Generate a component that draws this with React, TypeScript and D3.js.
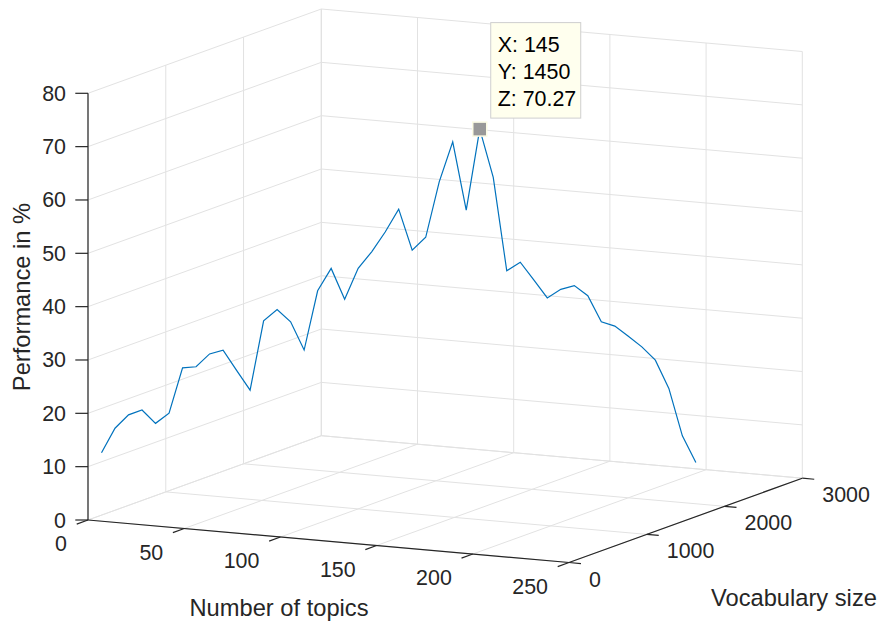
import { useEffect, useRef } from 'react';
import * as d3 from 'd3';

// topics, vocabulary and performance of the plotted line
const topics = [5, 10, 15, 20, 25, 30, 35, 40, 45, 50, 55, 60, 65, 70, 75, 80, 85, 90, 95, 100,
  105, 110, 115, 120, 125, 130, 135, 140, 145, 150, 155, 160, 165, 170, 175, 180, 185, 190, 195, 200,
  205, 210, 215, 220, 225];
const vocab = [50, 100, 150, 200, 250, 300, 350, 400, 450, 500, 550, 600, 650, 700, 750, 800, 850, 900, 950, 1000,
  1050, 1100, 1150, 1200, 1250, 1300, 1350, 1400, 1450, 1500, 1550, 1600, 1650, 1700, 1750, 1800, 1850, 1900, 1950, 2000,
  2050, 2100, 2150, 2200, 2250];
const performance = [12.5, 17.0, 19.4, 20.2, 17.6, 19.4, 27.8, 27.9, 30.2, 30.8, 26.9, 23.1, 36.0, 38.0, 35.6, 30.2,
  41.2, 45.3, 39.4, 45.1, 48.1, 51.7, 55.9, 48.1, 50.4, 60.7, 68.1, 55.2, 70.27, 61.1, 43.5, 45.0, 41.6, 38.1,
  39.6, 40.2, 38.2, 33.2, 32.3, 30.3, 28.2, 25.6, 20.2, 11.2, 6.1];

const xTicks = [0, 50, 100, 150, 200, 250];
const yTicks = [0, 1000, 2000, 3000];
const zTicks = [0, 10, 20, 30, 40, 50, 60, 70, 80];

const tip = { x: 145, y: 1450, z: 70.27 };

const width = 882;
const height = 627;

const App = () => {
  const svgRef = useRef<SVGSVGElement>(null);

  useEffect(() => {
    if (!svgRef.current) return;
    const svg = d3.select(svgRef.current);
    svg.selectAll('*').remove();

    const font = 'Liberation Sans, Arial, Helvetica, sans-serif';
    const axisColor = '#262626';
    const gridColor = '#e2e2e2';
    const tickSize = 21.4;
    const labelSize = 23.7;

    const xs = d3.scaleLinear().domain([0, 250]).range([0, 1]);
    const ys = d3.scaleLinear().domain([0, 3000]).range([0, 1]);
    const zs = d3.scaleLinear().domain([0, 80]).range([0, 1]);

    // screen vectors of the projected box
    const O = [88, 520];
    const EX = [481, 42.5];
    const EY = [233.3, -84.3];
    const EZ = [0, -426.7];

    const P = (x: number, y: number, z: number): [number, number] => {
      const a = xs(x), b = ys(y), c = zs(z);
      return [O[0] + a * EX[0] + b * EY[0] + c * EZ[0], O[1] + a * EX[1] + b * EY[1] + c * EZ[1]];
    };

    const seg = (g: any, p1: [number, number], p2: [number, number], color: string, w: number) =>
      g.append('line')
        .attr('x1', p1[0]).attr('y1', p1[1])
        .attr('x2', p2[0]).attr('y2', p2[1])
        .attr('stroke', color).attr('stroke-width', w);

    const xMax = 250, yMax = 3000, zMax = 80;

    // grid
    const grid = svg.append('g');
    xTicks.forEach(x => {
      seg(grid, P(x, 0, 0), P(x, yMax, 0), gridColor, 1);
      seg(grid, P(x, yMax, 0), P(x, yMax, zMax), gridColor, 1);
    });
    yTicks.forEach(y => {
      seg(grid, P(0, y, 0), P(xMax, y, 0), gridColor, 1);
      seg(grid, P(0, y, 0), P(0, y, zMax), gridColor, 1);
    });
    zTicks.forEach(z => {
      seg(grid, P(0, yMax, z), P(xMax, yMax, z), gridColor, 1);
      seg(grid, P(0, 0, z), P(0, yMax, z), gridColor, 1);
    });

    // axes
    const ax = svg.append('g');
    seg(ax, P(0, 0, 0), P(xMax, 0, 0), axisColor, 1.2);
    seg(ax, P(xMax, 0, 0), P(xMax, yMax, 0), axisColor, 1.2);
    seg(ax, P(0, 0, 0), P(0, 0, zMax), axisColor, 1.2);

    const tl = 12;
    const nY = Math.hypot(EY[0], EY[1]);
    const nX = Math.hypot(EX[0], EX[1]);

    xTicks.forEach(x => {
      const p = P(x, 0, 0);
      seg(ax, p, [p[0] - EY[0] / nY * tl, p[1] - EY[1] / nY * tl], axisColor, 1.2);
      ax.append('text')
        .attr('x', p[0] - 21).attr('y', p[1] + 31)
        .attr('text-anchor', 'end')
        .attr('font-family', font).attr('font-size', tickSize).attr('fill', axisColor)
        .text(String(x));
    });
    yTicks.forEach(y => {
      const p = P(xMax, y, 0);
      seg(ax, p, [p[0] + EX[0] / nX * tl, p[1] + EX[1] / nX * tl], axisColor, 1.2);
      ax.append('text')
        .attr('x', p[0] + 20).attr('y', p[1] + 24)
        .attr('text-anchor', 'start')
        .attr('font-family', font).attr('font-size', tickSize).attr('fill', axisColor)
        .text(String(y));
    });
    zTicks.forEach(z => {
      const p = P(0, 0, z);
      seg(ax, p, [p[0] - 12.7, p[1]], axisColor, 1.2);
      ax.append('text')
        .attr('x', p[0] - 22).attr('y', p[1] + 7.5)
        .attr('text-anchor', 'end')
        .attr('font-family', font).attr('font-size', tickSize).attr('fill', axisColor)
        .text(String(z));
    });

    // axis labels
    svg.append('text')
      .attr('x', 279).attr('y', 616)
      .attr('text-anchor', 'middle')
      .attr('font-family', font).attr('font-size', labelSize).attr('fill', axisColor)
      .text('Number of topics');
    svg.append('text')
      .attr('x', 711).attr('y', 606)
      .attr('text-anchor', 'start')
      .attr('font-family', font).attr('font-size', labelSize).attr('fill', axisColor)
      .text('Vocabulary size');
    svg.append('text')
      .attr('transform', 'translate(30,297) rotate(-90)')
      .attr('text-anchor', 'middle')
      .attr('font-family', font).attr('font-size', labelSize).attr('fill', axisColor)
      .text('Performance in %');

    // data line
    const pts = topics.map((t, i) => P(t, vocab[i], performance[i]));
    svg.append('path')
      .attr('d', d3.line()(pts))
      .attr('fill', 'none')
      .attr('stroke', '#0072BD')
      .attr('stroke-width', 1.2);

    // data tip
    const tp = P(tip.x, tip.y, tip.z);
    svg.append('rect')
      .attr('x', tp[0] - 7).attr('y', tp[1] - 7)
      .attr('width', 14).attr('height', 14)
      .attr('fill', '#999999')
      .attr('stroke', '#fbfbe4').attr('stroke-width', 1.5);

    const bx = tp[0] + 11, by = tp[1] - 106.5;
    svg.append('rect')
      .attr('x', bx).attr('y', by)
      .attr('width', 90).attr('height', 95.5)
      .attr('fill', '#ffffee')
      .attr('stroke', '#cfcfcf').attr('stroke-width', 1);
    [`X: ${tip.x}`, `Y: ${tip.y}`, `Z: ${tip.z}`].forEach((s, i) => {
      svg.append('text')
        .attr('x', bx + 7).attr('y', by + 29 + i * 27)
        .attr('font-family', font).attr('font-size', tickSize).attr('fill', '#000')
        .text(s);
    });
  }, []);

  return (
    <svg
      ref={svgRef}
      width={width}
      height={height}
      style={{ position: 'absolute', left: 0, top: 0, background: '#fff' }}
    />
  );
};

export default App;
